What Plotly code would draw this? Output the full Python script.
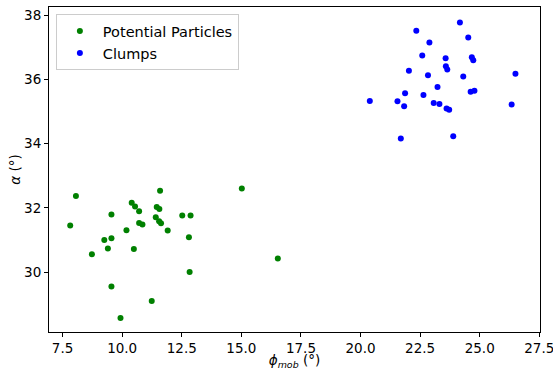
import plotly.graph_objects as go

# Potential Particles (green)
pp_phi = [8.06, 7.82, 11.59, 10.40, 10.54, 10.71, 11.45, 11.56, 9.55, 11.41,
          12.52, 12.87, 10.71, 10.85, 11.55, 11.63, 11.91, 10.18, 9.25, 9.55,
          9.40, 10.49, 12.80, 8.73, 12.83, 9.55, 11.24, 9.93, 15.02, 16.53]
pp_alpha = [32.37, 31.45, 32.53, 32.16, 32.04, 31.89, 32.03, 31.96, 31.79, 31.71,
            31.76, 31.76, 31.53, 31.48, 31.58, 31.52, 31.29, 31.30, 31.00, 31.05,
            30.73, 30.72, 31.08, 30.55, 30.00, 29.55, 29.10, 28.57, 32.60, 30.42]

# Clumps (blue)
cl_phi = [24.17, 22.34, 24.52, 22.89, 22.59, 23.57, 24.67, 24.73, 23.58, 23.64,
          22.03, 22.83, 24.31, 26.50, 23.23, 21.87, 22.64, 24.62, 24.78, 21.55,
          21.83, 23.07, 23.31, 23.61, 23.72, 26.34, 21.69, 23.89, 20.39]
cl_alpha = [37.78, 37.52, 37.31, 37.15, 36.75, 36.66, 36.69, 36.60, 36.41, 36.31,
            36.27, 36.13, 36.09, 36.18, 35.77, 35.57, 35.52, 35.62, 35.65, 35.32,
            35.17, 35.27, 35.24, 35.10, 35.06, 35.22, 34.16, 34.23, 35.33]

x_ticks = [7.5, 10.0, 12.5, 15.0, 17.5, 20.0, 22.5, 25.0, 27.5]
y_ticks = [30, 32, 34, 36, 38]

font = "DejaVu Sans"

fig = go.Figure()
fig.add_trace(go.Scatter(x=pp_phi, y=pp_alpha, mode="markers", name="Potential Particles",
                         marker=dict(color="green", size=6)))
fig.add_trace(go.Scatter(x=cl_phi, y=cl_alpha, mode="markers", name="Clumps",
                         marker=dict(color="blue", size=6)))

axis_common = dict(showline=True, linecolor="black", linewidth=1, mirror=True,
                   ticks="outside", ticklen=4, tickcolor="black", showgrid=False,
                   zeroline=False, automargin=False, ticklabeloverflow="allow",
                   tickfont=dict(family=font, size=13.5, color="black"))

fig.update_layout(
    width=553, height=370,
    margin=dict(l=49, r=13, t=7, b=38),
    paper_bgcolor="white", plot_bgcolor="white",
    font=dict(family=font, size=14, color="black"),
    xaxis=dict(range=[6.93, 27.53], tickvals=x_ticks,
               ticktext=[f"{v:.1f}" for v in x_ticks],
               title=dict(text="<i>ϕ</i><sub><i>mob</i></sub> (°)", standoff=0,
                          font=dict(family=font, size=13.5)),
               **axis_common),
    yaxis=dict(range=[28.13, 38.26], tickvals=y_ticks,
               ticktext=[str(v) for v in y_ticks],
               title=dict(text="<i>α</i> (°)", standoff=0,
                          font=dict(family=font, size=13.5)),
               **axis_common),
    legend=dict(x=0.014, y=0.978, xanchor="left", yanchor="top",
                bgcolor="rgba(255,255,255,0.8)", bordercolor="#cccccc", borderwidth=1,
                font=dict(family=font, size=14.5), itemsizing="trace", itemwidth=36),
    showlegend=True,
)

fig.write_html("out.html", config={"displayModeBar": False},
               post_script="document.body.style.margin='0';document.body.style.padding='0';")
